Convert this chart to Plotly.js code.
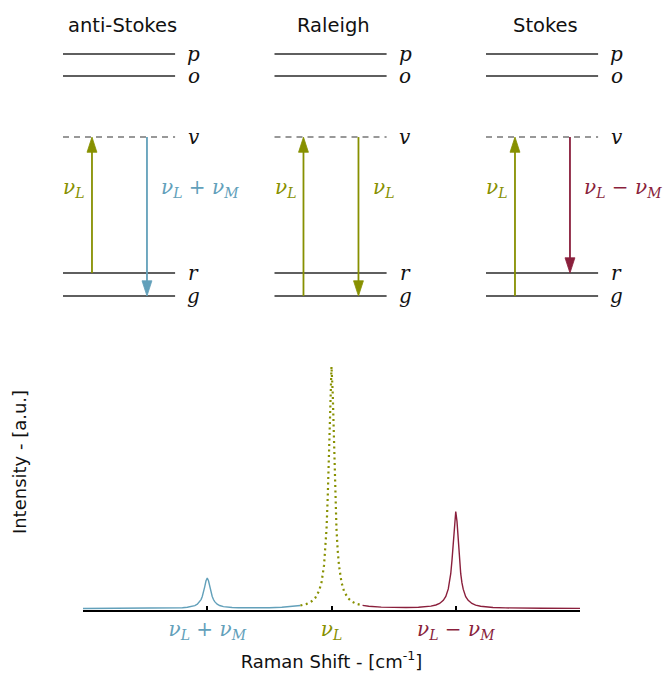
<!DOCTYPE html>
<html><head><meta charset="utf-8">
<script src="https://cdn.plot.ly/plotly-3.0.1.min.js"></script>
<style>html,body{margin:0;padding:0;background:#fff}#chart{width:665px;height:675px}</style>
</head><body><div id="chart"></div>
<script>
// ---------------- data ----------------
const diagramNames = ['anti-Stokes', 'Raleigh', 'Stokes'];
const levelNames = ['g', 'r', 'v', 'o', 'p'];
const levelEnergies = [0, 1, 6.91, 9.57, 10.52];
const levelVirtual = [false, false, true, false, false];
const absorbFrom = ['r', 'g', 'g'];
const absorbTo = ['v', 'v', 'v'];
const emitFrom = ['v', 'v', 'v'];
const emitTo = ['g', 'g', 'r'];
const nuL = '<i>ν</i><sub><i>L</i></sub>';
const nuM = '<i>ν</i><sub><i>M</i></sub>';
const absorbLabels = [nuL, nuL, nuL];
const emitLabels = [nuL + ' + ' + nuM, nuL, nuL + ' − ' + nuM];

const antiStokesX = [-2, -1.7, -1.5, -1.4, -1.3, -1.25, -1.2, -1.16, -1.13, -1.1, -1.08, -1.06, -1.05, -1.04, -1.03, -1.02, -1.01, -1.0, -0.99, -0.98, -0.97, -0.96, -0.95, -0.94, -0.92, -0.9, -0.87, -0.84, -0.8, -0.75, -0.7, -0.6, -0.5, -0.4, -0.3, -0.25];
const antiStokesY = [0.0004, 0.0005, 0.0009, 0.0012, 0.0019, 0.0025, 0.0036, 0.0054, 0.0077, 0.0123, 0.0179, 0.0284, 0.0371, 0.0496, 0.0673, 0.0908, 0.1148, 0.1258, 0.1148, 0.0908, 0.0674, 0.0497, 0.0372, 0.0286, 0.0181, 0.0126, 0.0080, 0.0058, 0.0043, 0.0034, 0.0030, 0.0030, 0.0036, 0.0052, 0.0088, 0.0126];
const rayleighX = [-0.25, -0.2, -0.16, -0.13, -0.1, -0.08, -0.06, -0.05, -0.04, -0.03, -0.02, -0.01, 0, 0.01, 0.02, 0.03, 0.04, 0.05, 0.06, 0.08, 0.1, 0.13, 0.16, 0.2, 0.25];
const rayleighY = [0.0126, 0.0194, 0.0300, 0.0446, 0.0730, 0.1092, 0.1792, 0.2392, 0.3292, 0.4662, 0.6622, 0.8872, 1.0, 0.8872, 0.6622, 0.4662, 0.3292, 0.2392, 0.1792, 0.1092, 0.0730, 0.0446, 0.0300, 0.0194, 0.0130];
const stokesX = [0.25, 0.3, 0.4, 0.5, 0.6, 0.7, 0.75, 0.8, 0.84, 0.87, 0.9, 0.92, 0.94, 0.95, 0.96, 0.97, 0.98, 0.99, 1.0, 1.01, 1.02, 1.03, 1.04, 1.05, 1.06, 1.08, 1.1, 1.13, 1.16, 1.2, 1.25, 1.3, 1.4, 1.5, 1.7, 2.0];
const stokesY = [0.0130, 0.0093, 0.0058, 0.0045, 0.0044, 0.0056, 0.0071, 0.0100, 0.0147, 0.0212, 0.0340, 0.0500, 0.0810, 0.1070, 0.1450, 0.2010, 0.2780, 0.3610, 0.4010, 0.3600, 0.2770, 0.2000, 0.1440, 0.1060, 0.0800, 0.0490, 0.0340, 0.0210, 0.0140, 0.0095, 0.0063, 0.0045, 0.0027, 0.0018, 0.0010, 0.0006];
const tickVals = [-1, 0, 1];
const tickLabels = [nuL + ' + ' + nuM, nuL, nuL + ' − ' + nuM];

// ---------------- styles ----------------
const OLIVE = '#879000', BLUE = '#62a0ba', RED = '#8a1f3c';
const emitColors = [BLUE, OLIVE, RED];
const tickColors = [BLUE, OLIVE, RED];
const MATH = 'DejaVu Serif';
const SANS = 'DejaVu Sans';
const LINE_W = 0.53, UP_X = 0.137, DOWN_X = 0.397;

const E = n => levelEnergies[levelNames.indexOf(n)];
const traces = [];

// spectrum
traces.push({x: antiStokesX, y: antiStokesY, xaxis: 'x', yaxis: 'y', mode: 'lines', line: {color: BLUE, width: 1.4}});
traces.push({x: rayleighX, y: rayleighY, xaxis: 'x', yaxis: 'y', mode: 'lines', line: {color: OLIVE, width: 2.2, dash: '2px,3.5px'}});
traces.push({x: stokesX, y: stokesY, xaxis: 'x', yaxis: 'y', mode: 'lines', line: {color: RED, width: 1.4}});

// energy levels
levelNames.forEach((n, i) => {
  const xs = [], ys = [];
  diagramNames.forEach((d, k) => { xs.push(k, k + LINE_W, null); ys.push(levelEnergies[i], levelEnergies[i], null); });
  traces.push({x: xs, y: ys, xaxis: 'x2', yaxis: 'y2', mode: 'lines',
    line: levelVirtual[i] ? {color: '#777777', width: 1.5, dash: '6px,5px'} : {color: '#5f5f5f', width: 2}});
});

// arrows
const annotations = [];
diagramNames.forEach((d, k) => {
  traces.push({x: [k + UP_X, k + UP_X], y: [E(absorbFrom[k]), E(absorbTo[k])], xaxis: 'x2', yaxis: 'y2',
    mode: 'lines+markers', line: {color: OLIVE, width: 1.8},
    marker: {symbol: 'arrow', size: [0, 16], angleref: 'previous', color: OLIVE, opacity: 1, line: {color: OLIVE, width: 0.8}}});
  traces.push({x: [k + DOWN_X, k + DOWN_X], y: [E(emitFrom[k]), E(emitTo[k])], xaxis: 'x2', yaxis: 'y2',
    mode: 'lines+markers', line: {color: emitColors[k], width: 1.8},
    marker: {symbol: 'arrow', size: [0, 16], angleref: 'previous', color: emitColors[k], opacity: 1, line: {color: emitColors[k], width: 0.8}}});
  annotations.push({x: k + 0.28, y: 11.78, xref: 'x2', yref: 'y2', text: d, showarrow: false,
    font: {family: SANS, size: 19.5, color: '#111'}});
  annotations.push({x: k + 0.05, y: 4.7, xref: 'x2', yref: 'y2', text: absorbLabels[k], showarrow: false,
    font: {family: MATH, size: 20, color: OLIVE}});
  annotations.push({x: k + 0.455, y: 4.7, xref: 'x2', yref: 'y2', xanchor: 'left', text: emitLabels[k], showarrow: false,
    font: {family: MATH, size: 20, color: emitColors[k]}});
  levelNames.forEach((n, i) => {
    annotations.push({x: k + 0.617, y: levelEnergies[i], xref: 'x2', yref: 'y2', text: '<i>' + n + '</i>', showarrow: false,
      font: {family: MATH, size: 20, color: '#111'}});
  });
});

const layout = {
  width: 665, height: 675, margin: {l: 0, r: 0, t: 0, b: 0},
  paper_bgcolor: '#fff', plot_bgcolor: 'rgba(0,0,0,0)', showlegend: false,
  xaxis: {domain: [83 / 665, 580 / 665], range: [-2, 2], anchor: 'y', showline: true, linecolor: '#000', linewidth: 2,
    ticks: 'inside', ticklen: 4, tickwidth: 2, tickcolor: '#000', tickvals: tickVals,
    ticktext: tickLabels.map((t, i) => '<span style="color:' + tickColors[i] + '">' + t + '</span>'),
    tickfont: {family: MATH, size: 20}, showgrid: false, zeroline: false,
    title: {text: 'Raman Shift - [cm<sup>-1</sup>]', font: {family: SANS, size: 18, color: '#111'}, standoff: 13}},
  yaxis: {domain: [65 / 675, 361 / 675], range: [-0.006, 1.217], anchor: 'x', showline: false, showticklabels: false,
    ticks: '', showgrid: false, zeroline: false,
    title: {text: 'Intensity - [a.u.]', font: {family: SANS, size: 18, color: '#111'}, standoff: 50}},
  xaxis2: {domain: [0, 1], range: [-63 / 211.5, 602 / 211.5], anchor: 'y2', visible: false},
  yaxis2: {domain: [1 - 314 / 675, 1], range: [-18 / 23, 296 / 23], anchor: 'x2', visible: false},
  annotations: annotations
};
Plotly.newPlot('chart', traces, layout, {staticPlot: true});
</script>
</body></html>
